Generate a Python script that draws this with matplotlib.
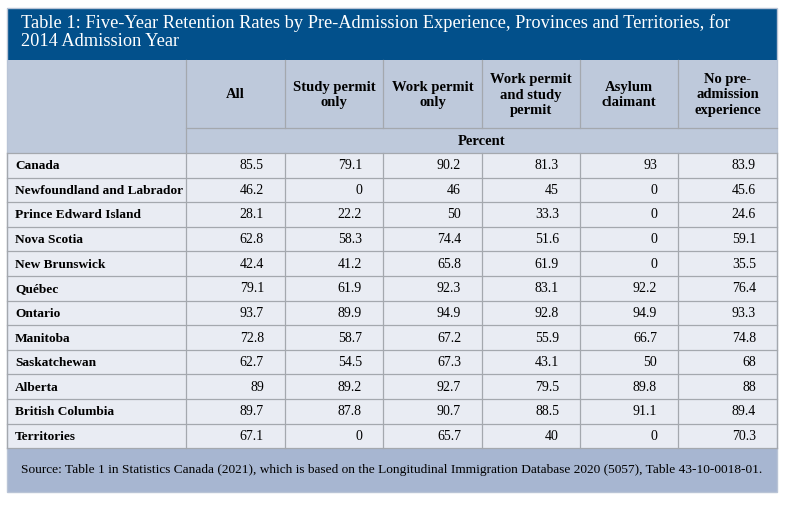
import matplotlib.pyplot as plt
from matplotlib.patches import Rectangle

plt.rcParams['font.family'] = ['Liberation Serif', 'DejaVu Serif']

title = ("Table 1: Five-Year Retention Rates by Pre-Admission Experience, Provinces and Territories, for\n"
         "2014 Admission Year")
columns = ["All", "Study permit\nonly", "Work permit\nonly", "Work permit\nand study\npermit",
           "Asylum\nclaimant", "No pre-\nadmission\nexperience"]
regions = ["Canada", "Newfoundland and Labrador", "Prince Edward Island", "Nova Scotia",
           "New Brunswick", "Québec", "Ontario", "Manitoba", "Saskatchewan", "Alberta",
           "British Columbia", "Territories"]
all_ = ["85.5", "46.2", "28.1", "62.8", "42.4", "79.1", "93.7", "72.8", "62.7", "89", "89.7", "67.1"]
study = ["79.1", "0", "22.2", "58.3", "41.2", "61.9", "89.9", "58.7", "54.5", "89.2", "87.8", "0"]
work = ["90.2", "46", "50", "74.4", "65.8", "92.3", "94.9", "67.2", "67.3", "92.7", "90.7", "65.7"]
work_study = ["81.3", "45", "33.3", "51.6", "61.9", "83.1", "92.8", "55.9", "43.1", "79.5", "88.5", "40"]
asylum = ["93", "0", "0", "0", "0", "92.2", "94.9", "66.7", "50", "89.8", "91.1", "0"]
no_pre = ["83.9", "45.6", "24.6", "59.1", "35.5", "76.4", "93.3", "74.8", "68", "88", "89.4", "70.3"]
unit = "Percent"
source = ("Source: Table 1 in Statistics Canada (2021), which is based on the Longitudinal "
          "Immigration Database 2020 (5057), Table 43-10-0018-01.")

series = [all_, study, work, work_study, asylum, no_pre]

# layout in pixels
left, right = 7, 777
col_edges = [7, 186, 285, 383, 482, 580, 678, 777]
title_top, title_bot = 8, 60
head_bot = 128
unit_bot = 153
row_h = 24.6
foot_bot = 492

c_title = "#02508B"
c_head = "#BEC9DB"
c_row = "#E9ECF3"
c_foot = "#A7B6D1"
c_line = "#A4A8AE"

fig = plt.figure(figsize=(8, 5.05), dpi=100)
ax = fig.add_axes([0, 0, 1, 1])
ax.set_xlim(0, 800)
ax.set_ylim(505, 0)
ax.axis('off')

def box(x0, y0, x1, y1, fc, ec='none', lw=0):
    ax.add_patch(Rectangle((x0, y0), x1 - x0, y1 - y0, facecolor=fc, edgecolor=ec, linewidth=lw))

# title band
box(left, title_top, right, title_bot, c_title)
ax.text(left + 14, title_top + 6, title, color='white', fontsize=13.2, va='top', ha='left',
        linespacing=1.12)

# header
box(left, title_bot, right, unit_bot, c_head)
for i, name in enumerate(columns):
    x0, x1 = col_edges[i + 1], col_edges[i + 2]
    ax.text((x0 + x1) / 2, (title_bot + head_bot) / 2 + 1, name, ha='center', va='center',
            fontsize=10.5, fontweight='bold', linespacing=1.25)
ax.text((col_edges[1] + right) / 2, (head_bot + unit_bot) / 2 + 1, unit, ha='center', va='center',
        fontsize=10.5, fontweight='bold')

# header lines
for x in col_edges[2:-1]:
    ax.plot([x, x], [title_bot, head_bot], color=c_line, lw=0.9)
ax.plot([col_edges[1], col_edges[1]], [title_bot, unit_bot], color=c_line, lw=0.9)
ax.plot([col_edges[1], right], [head_bot, head_bot], color=c_line, lw=0.9)

# data rows
data_top = unit_bot
data_bot = unit_bot + row_h * len(regions)
box(left, data_top, right, data_bot, c_row)
for r, name in enumerate(regions):
    yc = data_top + row_h * (r + 0.5) + 4
    ax.text(left + 8, yc, name, ha='left', va='baseline', fontsize=9.6, fontweight='bold')
    for c, vals in enumerate(series):
        ax.text(col_edges[c + 2] - 21, yc, vals[r], ha='right', va='baseline', fontsize=10)
for r in range(len(regions) + 1):
    y = data_top + row_h * r
    ax.plot([left, right], [y, y], color=c_line, lw=0.9)
for x in col_edges:
    ax.plot([x, x], [data_top, data_bot], color=c_line, lw=0.9)

# footer
box(left, data_bot, right, foot_bot, c_foot)
ax.text((left + right) / 2, (data_bot + foot_bot) / 2, source, ha='center', va='center',
        fontsize=9.6)

# outer border
box(left, title_top, right, foot_bot, 'none', ec='#B9C4D6', lw=1)

fig.savefig("out.png", dpi=100)
